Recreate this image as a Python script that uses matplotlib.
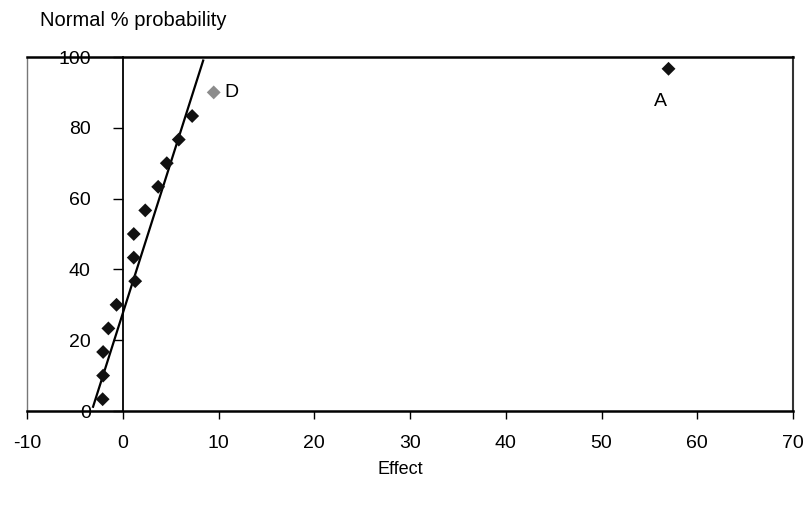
import matplotlib
matplotlib.use('Agg')
import matplotlib.pyplot as plt

# ---- data ----
effects = [-2.1, -2.05, -2.05, -1.5, -0.65, 1.3, 1.15, 1.15, 2.35, 3.7, 4.6, 5.85, 7.25, 9.5, 57.0]
probabilities = [3.33, 10.0, 16.67, 23.33, 30.0, 36.67, 43.33, 50.0, 56.67, 63.33,
                 70.0, 76.67, 83.33, 90.0, 96.67]
point_colors = ['#111111'] * 13 + ['#8c8c8c', '#111111']
labels = {13: 'D', 14: 'A'}
label_offsets = {13: (11, 0), 14: (-8, -33)}

fit_x = [-3.1, 8.4]
fit_y = [1.2, 99.0]

x_ticks = [-10, 0, 10, 20, 30, 40, 50, 60, 70]
y_ticks = [0, 20, 40, 60, 80, 100]

plt.rcParams['font.family'] = ['Liberation Sans', 'DejaVu Sans']
plt.rcParams['axes.unicode_minus'] = False

fig = plt.figure(figsize=(8.05, 5.07), dpi=100)
ax = fig.add_axes([27 / 805, 96 / 507, 766 / 805, 354 / 507])
ax.set_xlim(-10, 70)
ax.set_ylim(0, 100)

ax.spines['left'].set_position(('data', 0))
ax.spines['left'].set_linewidth(1.3)
ax.spines['bottom'].set_linewidth(1.8)
ax.spines['top'].set_linewidth(1.8)
ax.spines['right'].set_linewidth(1.5)
ax.spines['right'].set_color('#333333')
# left border of the plot frame
ax.plot([0, 0], [0, 1], transform=ax.transAxes, color='#777777', lw=1.0, clip_on=False)

ax.set_xticks(x_ticks)
ax.set_yticks(y_ticks)
ax.tick_params(axis='x', direction='out', length=6, width=1, pad=11, labelsize=14)
ax.tick_params(axis='y', direction='out', length=7, width=1, pad=16, labelsize=14)

ax.plot(fit_x, fit_y, color='black', lw=1.6, zorder=2)
ax.scatter(effects, probabilities, marker='D', s=50, c=point_colors, edgecolors='none', zorder=3)

for i, txt in labels.items():
    ax.annotate(txt, (effects[i], probabilities[i]), xytext=label_offsets[i],
                textcoords='offset pixels', fontsize=14,
                ha='left' if label_offsets[i][0] > 0 else 'center', va='center')

fig.text(40 / 805, 1 - 20 / 507, 'Normal % probability', fontsize=14.5, ha='left', va='center')
fig.text(400 / 805, 1 - 470 / 507, 'Effect', fontsize=13, ha='center', va='center')

fig.savefig('out.png', dpi=100)
